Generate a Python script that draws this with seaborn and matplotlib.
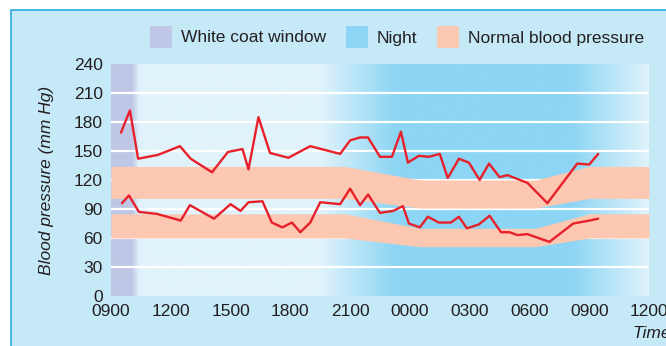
import numpy as np
import pandas as pd
import seaborn as sns
import matplotlib.pyplot as plt
from matplotlib.patches import Rectangle

# time axis: hours after 0900 on day one
tick_hours = [0, 3, 6, 9, 12, 15, 18, 21, 24, 27]
tick_labels = ["0900", "1200", "1500", "1800", "2100", "0000", "0300", "0600", "0900", "1200"]
y_ticks = [0, 30, 60, 90, 120, 150, 180, 210, 240]

# systolic readings
sys_hours = [0.5, 0.95, 1.36, 2.36, 3.46, 4.0, 5.07, 5.87, 6.6, 6.9, 7.4, 7.98, 8.9, 10.0,
             11.5, 12.0, 12.5, 12.9, 13.5, 14.1, 14.55, 14.9, 15.45, 15.95, 16.5, 16.9,
             17.46, 17.96, 18.5, 18.97, 19.5, 19.9, 20.9, 21.9, 23.4, 24.0, 24.45]
sys_values = [169, 192, 142, 146, 155, 142, 128, 149, 152, 131, 185, 148, 143, 155,
              147, 161, 164, 164, 144, 144, 170, 138, 145, 144, 147, 122,
              142, 138, 120, 137, 123, 125, 117, 96, 137, 136, 147]

# diastolic readings
dia_hours = [0.55, 0.9, 1.4, 2.3, 3.5, 3.96, 5.17, 6.0, 6.5, 6.9, 7.6, 8.07, 8.6, 9.08,
             9.5, 10.0, 10.5, 11.5, 12.0, 12.5, 12.9, 13.5, 14.15, 14.65, 14.95, 15.5,
             15.9, 16.45, 17.06, 17.46, 17.86, 18.46, 19.0, 19.57, 20.0, 20.4, 20.9,
             22.0, 23.2, 24.0, 24.45]
dia_values = [96, 104, 87, 85, 78, 94, 80, 95, 88, 97, 98, 76, 71, 76,
              66, 76, 97, 95, 111, 94, 105, 86, 88, 93, 75, 71,
              82, 76, 76, 82, 70, 74, 83, 66, 66, 63, 64,
              56, 75, 78, 80]

# normal blood pressure bands
band_hours = [0, 11.75, 15.5, 21.3, 24, 27]
sys_low = [101, 101, 91, 91, 101, 101]
sys_high = [134, 134, 120, 120, 134, 134]
dia_low = [60, 60, 51, 51, 60, 60]
dia_high = [85, 85, 70, 70, 85, 85]

legend_labels = ["White coat window", "Night", "Normal blood pressure"]

panel_col = "#C6E9F8"
border_col = "#2AA9E0"
base_col = "#E0F3FB"
coat_col = "#BEC7E5"
night_col = "#8CD5F4"
band_col = "#FCC8B2"
red = "#E8202A"
ink = "#231F20"
fs = 12.5

sns.set_style("white")
plt.rcParams["font.family"] = ["Liberation Sans Narrow", "Liberation Sans", "DejaVu Sans"]

fig = plt.figure(figsize=(6.66, 3.46), dpi=100)
fig.patch.set_facecolor("white")
fig.add_artist(Rectangle((11 / 666, -0.05), 1.0, (336 / 346) + 0.05, transform=fig.transFigure,
                         facecolor=panel_col, edgecolor=border_col, lw=1.2, zorder=-1))

ax = fig.add_axes([111 / 666, 50 / 346, 538 / 666, 232 / 346])
ax.set_facecolor(base_col)

# background shading (white coat window + night)
hh = np.linspace(0, 27, 1081)
coat_w = np.interp(hh, [0, 1.05, 1.4, 27], [1, 1, 0, 0])
night_w = np.interp(hh, [0, 10.5, 14.3, 23.1, 27], [0, 0, 1, 1, 0])
def rgb(c):
    return np.array(plt.matplotlib.colors.to_rgb(c))
cols = (rgb(base_col)[None, :] * (1 - coat_w - night_w)[:, None]
        + rgb(coat_col)[None, :] * coat_w[:, None]
        + rgb(night_col)[None, :] * night_w[:, None])
ax.imshow(cols[None, :, :], extent=[0, 27, 0, 240], aspect="auto", zorder=0,
          interpolation="bilinear")

for y in y_ticks[1:-1]:
    ax.axhline(y, color="white", lw=1.6, zorder=1)

ax.fill_between(band_hours, sys_low, sys_high, color=band_col, lw=0, zorder=2)
ax.fill_between(band_hours, dia_low, dia_high, color=band_col, lw=0, zorder=2)

df = pd.concat([
    pd.DataFrame({"hour": sys_hours, "bp": sys_values, "kind": "systolic"}),
    pd.DataFrame({"hour": dia_hours, "bp": dia_values, "kind": "diastolic"}),
])
sns.lineplot(data=df, x="hour", y="bp", units="kind", estimator=None, sort=False,
             color=red, lw=1.7, ax=ax, zorder=3)

ax.set_xlim(0, 27)
ax.set_ylim(0, 240)
ax.set_xticks(tick_hours)
ax.set_xticklabels(tick_labels)
ax.set_yticks(y_ticks)
ax.tick_params(axis="x", direction="in", color="white", length=4, width=1.5, pad=6,
               labelsize=fs, labelcolor=ink)
ax.tick_params(axis="y", length=0, pad=6, labelsize=fs, labelcolor=ink)
ax.set_xlabel("")
ax.set_ylabel("Blood pressure (mm Hg)", fontsize=fs, style="italic", color=ink, labelpad=14)
for s in ax.spines.values():
    s.set_visible(False)

fig.text(632 / 666, 13 / 346, "Time", fontsize=fs, style="italic", color=ink,
         ha="left", va="center")

# legend
leg_items = [(150, coat_col, legend_labels[0]), (346, night_col, legend_labels[1]),
             (437, band_col, legend_labels[2])]
for x0, c, lab in leg_items:
    fig.add_artist(Rectangle((x0 / 666, (346 - 48) / 346), 22 / 666, 22 / 346,
                             transform=fig.transFigure, facecolor=c, lw=0))
    fig.text((x0 + 31) / 666, (346 - 38) / 346, lab, fontsize=fs, color=ink,
             ha="left", va="center")

fig.savefig("out.png", dpi=100, facecolor=fig.get_facecolor())
